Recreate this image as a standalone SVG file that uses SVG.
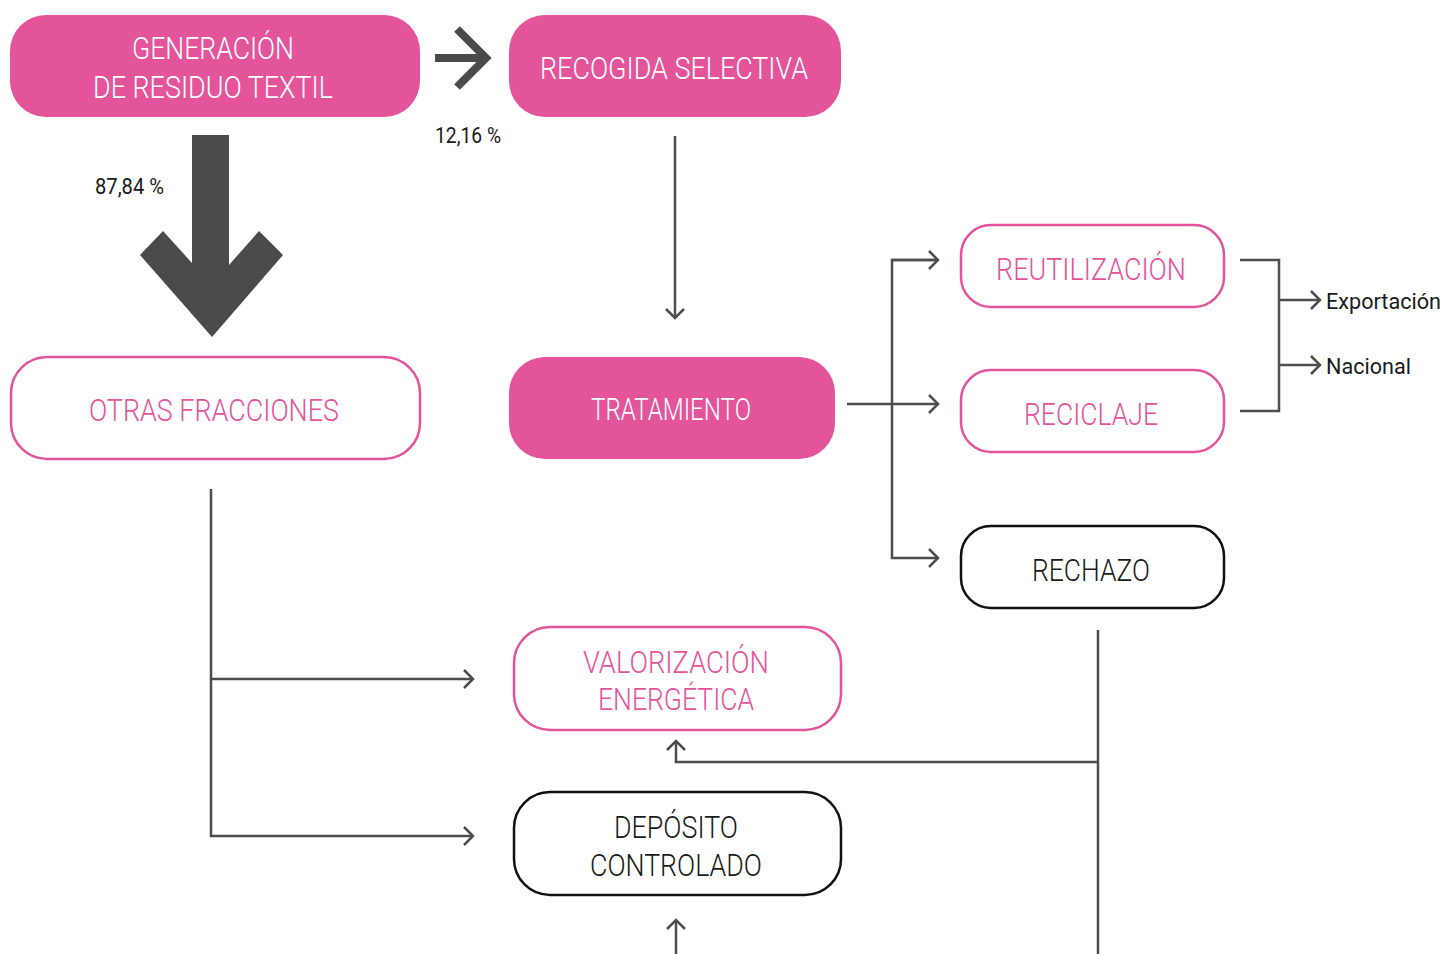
<svg xmlns="http://www.w3.org/2000/svg" width="1444" height="954" viewBox="0 0 1444 954">
<defs>
<style>
.fill{fill:#E4549A}
.pk{fill:#fff;stroke:#E4549A;stroke-width:2.5}
.bk{fill:#fff;stroke:#111;stroke-width:2.5}
.t{font-family:Roboto,"Liberation Sans",sans-serif;font-size:31px;font-weight:300;text-anchor:middle}
.tw{fill:#fff}
.tp{fill:#E4549A}
.tb{fill:#1a1a1a}
.s{font-family:Roboto,"Liberation Sans",sans-serif;font-size:22px;fill:#1a1a1a}
.ln{fill:none;stroke:#4d4d4d;stroke-width:2.5}
</style>
<marker id="ah" viewBox="0 0 20 20" refX="18" refY="10" markerWidth="20" markerHeight="20" markerUnits="userSpaceOnUse" orient="auto">
<path d="M9,1 L18,10 L9,19" fill="none" stroke="#4d4d4d" stroke-width="2.5"/>
</marker>
</defs>
<rect width="1444" height="954" fill="#fff"/>

<g id="generacion">
<rect class="fill" x="10" y="15" width="410" height="102" rx="36"/>
<text class="t tw" x="213" y="59" textLength="162" lengthAdjust="spacingAndGlyphs">GENERACIÓN</text>
<text class="t tw" x="213" y="98" textLength="240" lengthAdjust="spacingAndGlyphs">DE RESIDUO TEXTIL</text>
</g>
<g id="recogida">
<rect class="fill" x="509" y="15" width="332" height="102" rx="36"/>
<text class="t tw" x="674" y="79" textLength="268" lengthAdjust="spacingAndGlyphs">RECOGIDA SELECTIVA</text>
</g>
<g id="otras">
<rect class="pk" x="11" y="357" width="409" height="102" rx="36"/>
<text class="t tp" x="214" y="421" textLength="250" lengthAdjust="spacingAndGlyphs">OTRAS FRACCIONES</text>
</g>
<g id="tratamiento">
<rect class="fill" x="509" y="357" width="326" height="102" rx="36"/>
<text class="t tw" x="671" y="420" textLength="160" lengthAdjust="spacingAndGlyphs">TRATAMIENTO</text>
</g>
<g id="reutilizacion">
<rect class="pk" x="961" y="225" width="263" height="82" rx="30"/>
<text class="t tp" x="1091" y="280" textLength="190" lengthAdjust="spacingAndGlyphs">REUTILIZACIÓN</text>
</g>
<g id="reciclaje">
<rect class="pk" x="961" y="370" width="263" height="82" rx="30"/>
<text class="t tp" x="1091" y="425" textLength="134" lengthAdjust="spacingAndGlyphs">RECICLAJE</text>
</g>
<g id="rechazo">
<rect class="bk" x="961" y="526" width="263" height="82" rx="30"/>
<text class="t tb" x="1091" y="581" textLength="118" lengthAdjust="spacingAndGlyphs">RECHAZO</text>
</g>
<g id="valorizacion">
<rect class="pk" x="514" y="627" width="327" height="103" rx="36"/>
<text class="t tp" x="676" y="673" textLength="186" lengthAdjust="spacingAndGlyphs">VALORIZACIÓN</text>
<text class="t tp" x="676" y="710" textLength="156" lengthAdjust="spacingAndGlyphs">ENERGÉTICA</text>
</g>
<g id="deposito">
<rect class="bk" x="514" y="792" width="327" height="103" rx="36"/>
<text class="t tb" x="676" y="838" textLength="124" lengthAdjust="spacingAndGlyphs">DEPÓSITO</text>
<text class="t tb" x="676" y="876" textLength="172" lengthAdjust="spacingAndGlyphs">CONTROLADO</text>
</g>
<g id="labels">
<text class="s" x="435" y="143" textLength="66" lengthAdjust="spacingAndGlyphs">12,16 %</text>
<text class="s" x="95" y="194" textLength="69" lengthAdjust="spacingAndGlyphs">87,84 %</text>
<text class="s" x="1326" y="309" textLength="115" lengthAdjust="spacingAndGlyphs">Exportación</text>
<text class="s" x="1326" y="374" textLength="85" lengthAdjust="spacingAndGlyphs">Nacional</text>
</g>

<g id="connectors">
<path d="M435,58 H486 M457,29 L486,58 L457,87" fill="none" stroke="#4a4a48" stroke-width="8"/>
<polygon points="192,135 229,135 229,265 259,231 283,255 212,337 140,255 163,231 192,263" fill="#4a4a48"/>
<path class="ln" d="M675,136 V318" marker-end="url(#ah)"/>
<path class="ln" d="M847,404 H938" marker-end="url(#ah)"/>
<path class="ln" d="M938,260 H892 V558 H938" marker-end="url(#ah)"/>
<path class="ln" d="M892,260 H938" marker-end="url(#ah)"/>
<path class="ln" d="M1240,260 H1279 V411 H1240"/>
<path class="ln" d="M1279,300 H1320" marker-end="url(#ah)"/>
<path class="ln" d="M1279,365 H1320" marker-end="url(#ah)"/>
<path class="ln" d="M211,489 V836 H473" marker-end="url(#ah)"/>
<path class="ln" d="M211,679 H473" marker-end="url(#ah)"/>
<path class="ln" d="M1098,630 V954"/>
<path class="ln" d="M1098,762 H676 V741" marker-end="url(#ah)"/>
<path class="ln" d="M676,954 V920" marker-end="url(#ah)"/>
</g>
</svg>
